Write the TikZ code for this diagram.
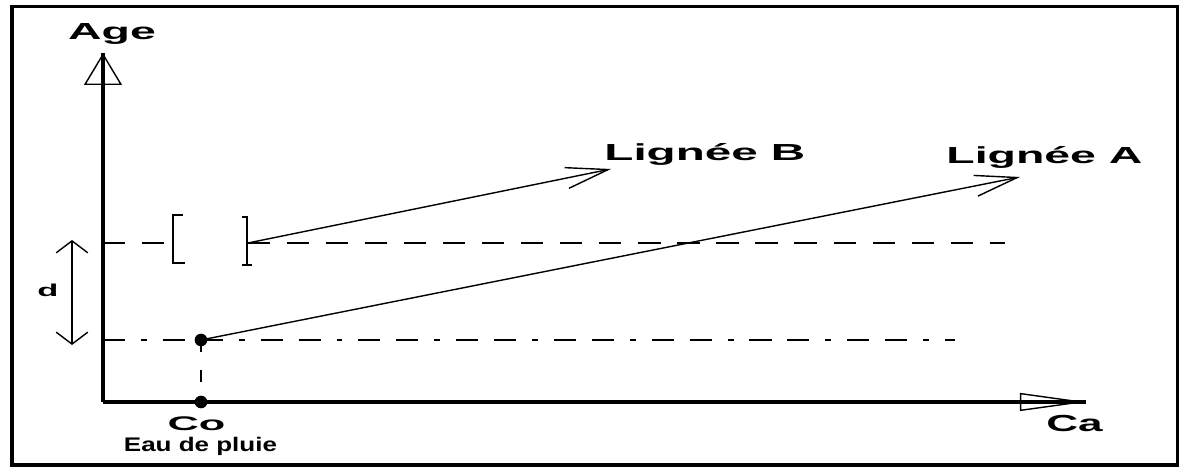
\documentclass[tikz,border=0pt]{standalone}
\usepackage{fontspec}
\setmainfont{Liberation Sans}
\usetikzlibrary{
  arrows.meta,
  positioning,
  calc
}

\begin{document}
\begin{tikzpicture}[
  x=0.01cm, y=-0.01cm,
  frame line/.style={line width=0.9pt},
  axis line/.style={line width=0.95pt},
  thin line/.style={line width=0.4pt},
  guide up/.style={line width=0.4pt, dash pattern=on 6.3pt off 4.8pt},
  guide low/.style={line width=0.4pt, dash pattern=on 6.3pt off 4.5pt on 1.7pt off 4.5pt on 6.3pt off 4.5pt},
  guide drop/.style={line width=0.4pt, dash pattern=on 3.5pt off 5pt},
  lignee arrow/.style={thin line, -{Straight Barb[length=12pt, width=6pt]}},
  big label/.style={inner sep=0pt, font=\fontsize{6.6}{8}\selectfont\bfseries},
  small label/.style={inner sep=0pt, font=\fontsize{5.6}{6.5}\selectfont\bfseries},
  dot/.style={circle, fill, inner sep=0pt, minimum size=3.6pt},
]
\useasboundingbox (0,0) rectangle (1184,468);

% outer frame
\draw[frame line] (12,6.5) rectangle (1177.5,465);

% axes
\coordinate (origin) at (103,402);
\coordinate (ytip) at (103,53);
\coordinate (xtip) at (1086,402);
\draw[thin line, -{Triangle[open, length=9.1pt, width=10.8pt]}] (origin) -- (ytip);
\draw[axis line] (origin) -- (ytip);
\draw[thin line, -{Triangle[open, length=18.8pt, width=5.1pt]}] (origin) -- (xtip);
\draw[axis line] (origin) -- (xtip);

\node[big label, anchor=base, xscale=2.0] (agelab) at (112,40) {Age};
\node[big label, anchor=base west, xscale=1.9] (calab) at (1045,431.5) {Ca};

% rain water point
\node[dot] (co) at (201,402) {};
\node[dot] (c0) at (201,340) {};
\node[small label, anchor=base, xscale=2.2] (colab) at (196.5,431) {Co};
\node[small label, anchor=base west, xscale=1.32] (pluie) at (123,452) {Eau de pluie};

% guide lines
\coordinate (ylow) at (103,340);
\coordinate (lowend) at (955,340);
\coordinate (yup) at (103,243);
\coordinate (brL) at (173,243);
\coordinate (brR) at (248,243);
\coordinate (upend) at (1005,243);
\draw[guide low] (ylow) -- (c0.center) -- (lowend);
\draw[guide drop] (c0.center) -- (co.center);
\draw[guide up] (yup) -- (brL);
\draw[guide up] (brR) -- (upend);

% brackets
\draw[thin line] (183,215) -- (173,215) -- (173,263) -- (185,263);
\draw[thin line] (242,217) -- (247,217) -- (247,265);
\draw[thin line] (242,265) -- (252,265);

% lineages
\coordinate (tipB) at (611,169);
\coordinate (tipA) at (1020,177);
\draw[lignee arrow] (brR) -- (tipB);
\draw[lignee arrow] (c0.center) -- (tipA);
\node[big label, anchor=base west, xscale=2.05] (lignb) at (603,161) {Lignée B};
\node[big label, anchor=base west, xscale=2.0] (ligna) at (945,164) {Lignée A};

% d
\coordinate (dtop) at (72,240);
\coordinate (dbot) at (72,345);
\draw[thin line, {Straight Barb[length=3.4pt, width=9pt]}-{Straight Barb[length=3.4pt, width=9pt]}] (dtop) -- (dbot);
\node[inner sep=0pt, font=\fontsize{4.9}{6}\selectfont\bfseries, anchor=base, xscale=2.0] (dlab) at (48,297) {d};

\end{tikzpicture}
\end{document}
